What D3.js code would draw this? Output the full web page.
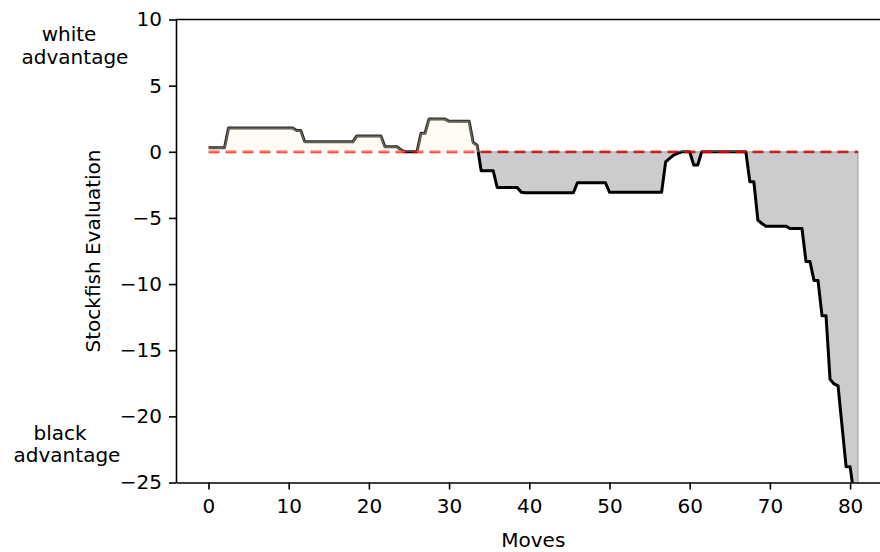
<!DOCTYPE html>
<html>
<head>
<meta charset="utf-8">
<script src="https://cdn.jsdelivr.net/npm/d3@7"></script>
<style>
body { margin: 0; background: #fff; }
text { font-family: "DejaVu Sans", sans-serif; fill: #000; }
</style>
</head>
<body>
<svg id="canvas" width="880" height="552"></svg>
<script>
// stockfish evaluation per half move (move = index / 2)
const evals = [
    0.3, 0.3, 0.3, 0.3, 0.3, 1.8,
    1.8, 1.8, 1.8, 1.8, 1.8, 1.8, 1.8, 1.8, 1.8, 1.8, 1.8, 1.8, 1.8, 1.8, 1.8, 1.8,
    1.6, 1.6, 0.75,
    0.75, 0.75, 0.75, 0.75, 0.75, 0.75, 0.75, 0.75, 0.75, 0.75, 0.75, 0.75,
    1.2, 1.2, 1.2, 1.2, 1.2, 1.2, 1.2,
    0.38, 0.38, 0.38, 0.38, 0.15,
    0, 0, 0, 0,
    1.4, 1.4, 2.47, 2.47, 2.47, 2.47, 2.47,
    2.3, 2.3, 2.3, 2.3, 2.3, 2.3,
    0.7, 0.5,
    -1.43, -1.43, -1.43, -1.43,
    -2.7, -2.7, -2.7, -2.7, -2.7, -2.7,
    -3.06, -3.1, -3.1, -3.1, -3.1, -3.1, -3.1, -3.1, -3.1, -3.1, -3.1, -3.1, -3.1, -3.1,
    -2.34, -2.34, -2.34, -2.34, -2.34, -2.34, -2.34, -2.34,
    -3.06, -3.06, -3.06, -3.06, -3.06, -3.06, -3.06, -3.06, -3.06, -3.06, -3.06, -3.06, -3.06, -3.06,
    -0.76, -0.5, -0.25, -0.12,
    0, 0, 0, -1.0, -1.0,
    0, 0, 0, 0, 0, 0, 0, 0, 0, 0, 0, 0,
    -2.27, -2.27, -5.17, -5.42, -5.62,
    -5.62, -5.62, -5.62, -5.62, -5.62,
    -5.8, -5.8, -5.8, -5.8,
    -8.3, -8.3, -9.73, -9.73, -12.4, -12.4,
    -17.2, -17.55, -17.7, -20.75, -23.8, -23.8, -26, -30
];
const xTicks = [0, 10, 20, 30, 40, 50, 60, 70, 80];
const yTicks = [-25, -20, -15, -10, -5, 0, 5, 10];
const topNote = ["white", "advantage"];
const bottomNote = ["black", "advantage"];
const xTitle = "Moves";
const yTitle = "Stockfish Evaluation";

const FONT_SIZE = 20;
const TICK_LEN = 7;
const SPINE_W = 1.6;
const LINE_W = 3;

var svg = d3.select("#canvas");
var points = evals.map(function(v, i){ return {m: i / 2, v: v}; });

var x = d3.scaleLinear().domain([-4.05, 85.05]).range([176, 890.6]);
var y = d3.scaleLinear().domain([-25, 10]).range([482.5, 19.5]);

var plotLeft = x.range()[0], plotRight = x.range()[1];
var plotTop = y.range()[1], plotBottom = y.range()[0];

var defs = svg.append("defs");
defs.append("clipPath").attr("id", "plotClip").append("rect")
    .attr("x", plotLeft).attr("y", plotTop)
    .attr("width", plotRight - plotLeft).attr("height", plotBottom - plotTop);
defs.append("clipPath").attr("id", "upClip").append("rect")
    .attr("x", plotLeft).attr("y", plotTop)
    .attr("width", plotRight - plotLeft).attr("height", y(0) - plotTop);
defs.append("clipPath").attr("id", "downClip").append("rect")
    .attr("x", plotLeft).attr("y", y(0))
    .attr("width", plotRight - plotLeft).attr("height", plotBottom - y(0));

var plot = svg.append("g").attr("clip-path", "url(#plotClip)");

/**
 * split the points into runs where sign*v > 0, closing each run on the zero line
 */
function signedRuns(points, sign){
    var runs = [];
    var cur = null;
    for (var i = 0; i < points.length; i++){
        var p = points[i];
        var inside = sign * p.v > 0;
        var q, t;
        if (inside){
            if (!cur){
                cur = [];
                if (i > 0){
                    q = points[i - 1];
                    t = q.v / (q.v - p.v);
                    cur.push({m: q.m + t * (p.m - q.m), v: 0});
                }
            }
            cur.push(p);
        } else if (cur){
            q = points[i - 1];
            t = q.v / (q.v - p.v);
            cur.push({m: q.m + t * (p.m - q.m), v: 0});
            runs.push(cur);
            cur = null;
        }
    }
    if (cur) runs.push(cur);
    return runs;
}

var line = d3.line().x(function(d){ return x(d.m); }).y(function(d){ return y(d.v); });
var area = d3.area()
    .x(function(d){ return x(d.m); })
    .y0(y(0))
    .y1(function(d){ return y(d.v); });

// evaluation line, dark grey above zero and black below
plot.append("g").attr("clip-path", "url(#upClip)").append("path")
    .datum(points)
    .attr("d", line)
    .attr("fill", "none")
    .attr("stroke", "#262626")
    .attr("stroke-width", LINE_W)
    .attr("stroke-linejoin", "round");
plot.append("g").attr("clip-path", "url(#downClip)").append("path")
    .datum(points)
    .attr("d", line)
    .attr("fill", "none")
    .attr("stroke", "#000")
    .attr("stroke-width", LINE_W)
    .attr("stroke-linejoin", "round");

// zero reference
plot.append("line")
    .attr("x1", x(0)).attr("x2", x(points[points.length - 1].m))
    .attr("y1", y(0)).attr("y2", y(0))
    .attr("stroke", "red")
    .attr("stroke-opacity", 0.78)
    .attr("stroke-width", 2.8)
    .attr("stroke-dasharray", "11,6");

// fills
signedRuns(points, 1).forEach(function(run){
    plot.append("path").datum(run).attr("d", area)
        .attr("fill", "rgba(250,240,200,0.2)")
        .attr("stroke", "rgba(250,240,200,0.2)")
        .attr("stroke-width", 1.5);
});
signedRuns(points, -1).forEach(function(run){
    plot.append("path").datum(run).attr("d", area)
        .attr("fill", "rgba(0,0,0,0.2)")
        .attr("stroke", "rgba(0,0,0,0.2)")
        .attr("stroke-width", 1.5);
});

// axes
var fmt = function(d){ return d < 0 ? "\u2212" + Math.abs(d) : String(d); };

var gx = svg.append("g").attr("transform", "translate(0," + plotBottom + ")")
    .call(d3.axisBottom(x).tickValues(xTicks).tickFormat(fmt)
        .tickSize(TICK_LEN).tickSizeOuter(0).tickPadding(9));
var gy = svg.append("g").attr("transform", "translate(" + plotLeft + ",0)")
    .call(d3.axisLeft(y).tickValues(yTicks).tickFormat(fmt)
        .tickSize(TICK_LEN).tickSizeOuter(0).tickPadding(7));

[gx, gy].forEach(function(g){
    g.select(".domain").attr("stroke", "#000").attr("stroke-width", SPINE_W);
    g.selectAll(".tick line").attr("stroke", "#000").attr("stroke-width", SPINE_W);
    g.selectAll(".tick text")
        .attr("font-family", "DejaVu Sans")
        .attr("font-size", FONT_SIZE)
        .attr("fill", "#000");
});

// top and right spines
svg.append("line")
    .attr("x1", plotLeft).attr("x2", plotRight)
    .attr("y1", plotTop).attr("y2", plotTop)
    .attr("stroke", "#000").attr("stroke-width", SPINE_W);
svg.append("line")
    .attr("x1", plotRight).attr("x2", plotRight)
    .attr("y1", plotTop).attr("y2", plotBottom)
    .attr("stroke", "#000").attr("stroke-width", SPINE_W);

// titles
svg.append("text")
    .attr("x", (plotLeft + plotRight) / 2)
    .attr("y", 547)
    .attr("text-anchor", "middle")
    .attr("font-size", FONT_SIZE)
    .text(xTitle);

svg.append("text")
    .attr("transform", "translate(100," + ((plotTop + plotBottom) / 2) + ") rotate(-90)")
    .attr("text-anchor", "middle")
    .attr("font-size", FONT_SIZE)
    .text(yTitle);

// side notes
var noteTop = svg.append("text").attr("font-size", FONT_SIZE).attr("text-anchor", "middle");
noteTop.append("tspan").attr("x", 69).attr("y", 40.5).text(topNote[0]);
noteTop.append("tspan").attr("x", 75).attr("y", 63.5).text(topNote[1]);

var noteBottom = svg.append("text").attr("font-size", FONT_SIZE).attr("text-anchor", "middle");
noteBottom.append("tspan").attr("x", 60).attr("y", 439.5).text(bottomNote[0]);
noteBottom.append("tspan").attr("x", 67).attr("y", 461.5).text(bottomNote[1]);
</script>
</body>
</html>
